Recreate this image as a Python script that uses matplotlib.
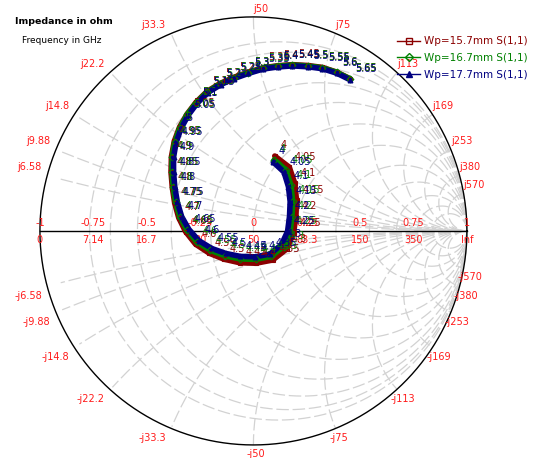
import numpy as np
import matplotlib
matplotlib.use("Agg")
import matplotlib.pyplot as plt

# frequency points (GHz)
freqs = [4.00, 4.05, 4.10, 4.15, 4.20, 4.25, 4.30, 4.35, 4.40, 4.45, 4.50,
         4.55, 4.60, 4.65, 4.70, 4.75, 4.80, 4.85, 4.90, 4.95, 5.00, 5.05,
         5.10, 5.15, 5.20, 5.25, 5.30, 5.35, 5.40, 5.45, 5.50, 5.55, 5.60, 5.65]

s11_157_re = [0.100, 0.168, 0.194, 0.202, 0.199, 0.188, 0.155, 0.090, 0.012, -0.063,
              -0.138, -0.207, -0.271, -0.318, -0.350, -0.369, -0.380, -0.386, -0.384,
              -0.371, -0.346, -0.310, -0.268, -0.217, -0.156, -0.091, -0.023, 0.044,
              0.114, 0.183, 0.254, 0.323, 0.390, 0.453]
s11_157_im = [0.350, 0.298, 0.222, 0.143, 0.066, -0.010, -0.085, -0.136, -0.151, -0.149,
              -0.132, -0.104, -0.062, -0.003, 0.062, 0.131, 0.203, 0.275, 0.347,
              0.418, 0.485, 0.547, 0.602, 0.652, 0.689, 0.718, 0.742, 0.762,
              0.772, 0.777, 0.773, 0.764, 0.742, 0.711]

s11_167_re = [0.098, 0.153, 0.176, 0.184, 0.181, 0.172, 0.141, 0.083, 0.010, -0.062,
              -0.134, -0.201, -0.264, -0.310, -0.344, -0.364, -0.376, -0.382, -0.381,
              -0.368, -0.344, -0.309, -0.267, -0.216, -0.155, -0.090, -0.023, 0.044,
              0.114, 0.183, 0.254, 0.323, 0.390, 0.453]
s11_167_im = [0.333, 0.284, 0.213, 0.140, 0.067, -0.005, -0.073, -0.119, -0.133, -0.131,
              -0.116, -0.091, -0.052, 0.003, 0.065, 0.133, 0.204, 0.275, 0.346,
              0.416, 0.483, 0.545, 0.600, 0.650, 0.687, 0.716, 0.740, 0.760,
              0.770, 0.775, 0.771, 0.762, 0.741, 0.710]

s11_177_re = [0.093, 0.143, 0.164, 0.172, 0.169, 0.160, 0.131, 0.077, 0.009, -0.061,
              -0.130, -0.195, -0.256, -0.302, -0.336, -0.356, -0.368, -0.374, -0.374,
              -0.362, -0.339, -0.305, -0.264, -0.214, -0.154, -0.090, -0.023, 0.044,
              0.114, 0.183, 0.254, 0.323, 0.390, 0.453]
s11_177_im = [0.322, 0.275, 0.207, 0.137, 0.067, -0.002, -0.065, -0.108, -0.121, -0.119,
              -0.105, -0.082, -0.045, 0.007, 0.067, 0.134, 0.204, 0.274, 0.344,
              0.413, 0.479, 0.541, 0.596, 0.646, 0.683, 0.712, 0.736, 0.756,
              0.766, 0.771, 0.767, 0.758, 0.737, 0.706]

series_names = ["Wp=15.7mm S(1,1)", "Wp=16.7mm S(1,1)", "Wp=17.7mm S(1,1)"]
series_colors = ["#8b0000", "#008000", "#000080"]

# grid values (ohm, Z0 = 50)
z0 = 50.0
reactance_labels = ["6.58", "9.88", "14.8", "22.2", "33.3", "50", "75", "113",
                    "169", "253", "380", "570"]
gamma_ticks = [-1, -0.75, -0.5, -0.25, 0, 0.25, 0.5, 0.75, 1]
gamma_tick_labels = ["-1", "-0.75", "-0.5", "-0.25", "0", "0.25", "0.5", "0.75", "1"]
res_tick_labels = ["0", "7.14", "16.7", "30", "50", "83.3", "150", "350", "Inf"]

red = "#ff1a1a"
grid_col = "#d2d2d2"

fig = plt.figure(figsize=(5.35, 4.58), dpi=100)
ax = fig.add_axes([0, 0, 1, 1])
ax.set_xlim(-1.187, 1.319)
ax.set_ylim(-1.061, 1.079)
ax.axis("off")

t = np.linspace(0, 2 * np.pi, 721)

# constant resistance circles
for lab in reactance_labels:
    r = float(lab) / z0
    c = r / (1 + r)
    rad = 1 / (1 + r)
    ax.plot(c + rad * np.cos(t), rad * np.sin(t), color=grid_col, lw=0.9,
            dashes=(10, 3), zorder=1)

# constant reactance arcs
for lab in reactance_labels:
    x = float(lab) / z0
    for sgn in (1, -1):
        cx, cy, rad = 1.0, sgn / x, 1 / x
        px = cx + rad * np.cos(t)
        py = cy + rad * np.sin(t)
        inside = px ** 2 + py ** 2 <= 1.0001
        px = np.where(inside, px, np.nan)
        py = np.where(inside, py, np.nan)
        ax.plot(px, py, color=grid_col, lw=0.9, dashes=(10, 3), zorder=1)

# outer circle and real axis
ax.plot(np.cos(t), np.sin(t), color="black", lw=1.0, zorder=2)
ax.plot([-1, 1], [0, 0], color="black", lw=1.0, zorder=2)

# real axis labels
for g, gl, rl in zip(gamma_ticks, gamma_tick_labels, res_tick_labels):
    ax.text(g, 0.012, gl, color=red, fontsize=7, ha="center", va="bottom", zorder=3)
    ax.text(g, -0.018, rl, color=red, fontsize=7, ha="center", va="top", zorder=3)

# reactance labels on the rim
for lab in reactance_labels:
    x = float(lab) / z0
    for sgn in (1, -1):
        gr = (x * x - 1) / (x * x + 1)
        gi = sgn * 2 * x / (x * x + 1)
        txt = ("j" if sgn > 0 else "-j") + lab
        if abs(gr) < 1e-6:
            ha, dx = ("left", 0.0) if sgn > 0 else ("center", 0.01)
        elif gr < 0:
            ha, dx = "right", -0.025
        else:
            ha, dx = "left", 0.0 if sgn > 0 else -0.03
        va = "bottom" if sgn > 0 else "top"
        dy = 0.015 if sgn > 0 else -0.02
        ax.text(gr + dx, gi + dy, txt, color=red, fontsize=7, ha=ha, va=va, zorder=3)

# data traces
markers = ["s", "D", "^"]
mfcs = ["none", "none", "#000080"]
data = [(s11_157_re, s11_157_im), (s11_167_re, s11_167_im), (s11_177_re, s11_177_im)]
for (re, im), name, col, mk, mfc in zip(data, series_names, series_colors, markers, mfcs):
    ax.plot(re, im, color=col, lw=4.0, solid_capstyle="round", zorder=4)
    ax.plot(re, im, color=col, lw=0, marker=mk, ms=3.5, mfc=mfc, mec=col,
            mew=0.8, zorder=5)
for (re, im), col in zip(data, series_colors):
    for f, a, b in zip(freqs, re, im):
        ax.annotate(f"{f:g}", (a, b), xytext=(4, 4), textcoords="offset points",
                    color=col, fontsize=7, ha="left", va="bottom", zorder=6)

# legend
handles = []
for name, col, mk, mfc in zip(series_names, series_colors, markers, mfcs):
    h, = ax.plot([], [], color=col, lw=1, marker=mk, ms=4, mfc=mfc, mec=col,
                 label=name)
    handles.append(h)
fig.legend(handles=handles, loc="upper left", bbox_to_anchor=(0.735, 0.93),
           frameon=False, fontsize=7.5, labelcolor="linecolor", handlelength=2.2,
           handletextpad=0.4, labelspacing=0.65, borderaxespad=0)

fig.text(0.028, 0.952, "Impedance in ohm", fontsize=6.8, fontweight="bold",
         ha="left", va="center")
fig.text(0.041, 0.912, "Frequency in GHz", fontsize=6.5, ha="left", va="center")

fig.savefig("out.png", dpi=100)
